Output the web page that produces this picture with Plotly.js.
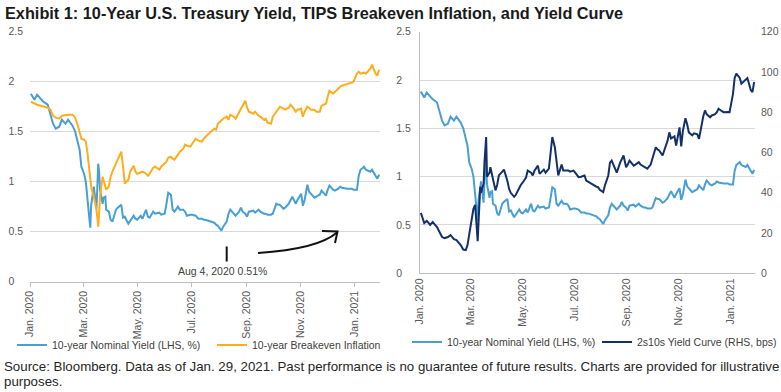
<!DOCTYPE html>
<html>
<head>
<meta charset="utf-8">
<script src="https://cdn.plot.ly/plotly-3.0.1.min.js"></script>
<style>html,body{margin:0;padding:0;background:#fff;}#chart{width:781px;height:392px;}</style>
</head>
<body>
<div id="chart"></div>
<script>
const dates = [
'2020-01-02','2020-01-06','2020-01-09','2020-01-13','2020-01-16','2020-01-21','2020-01-24','2020-01-27','2020-01-30',
'2020-02-03','2020-02-06','2020-02-10','2020-02-13','2020-02-18','2020-02-21','2020-02-24','2020-02-26','2020-02-28',
'2020-03-02','2020-03-04','2020-03-06','2020-03-09','2020-03-10','2020-03-12','2020-03-13','2020-03-16','2020-03-17','2020-03-18','2020-03-19','2020-03-20','2020-03-23','2020-03-24','2020-03-26','2020-03-27','2020-03-30',
'2020-04-01','2020-04-03','2020-04-07','2020-04-09','2020-04-13','2020-04-15','2020-04-17','2020-04-21','2020-04-23','2020-04-27','2020-04-29',
'2020-05-01','2020-05-05','2020-05-07','2020-05-11','2020-05-13','2020-05-15','2020-05-19','2020-05-21','2020-05-26','2020-05-28',
'2020-06-01','2020-06-03','2020-06-05','2020-06-08','2020-06-10','2020-06-12','2020-06-16','2020-06-18','2020-06-22','2020-06-24','2020-06-26','2020-06-30',
'2020-07-02','2020-07-06','2020-07-09','2020-07-13','2020-07-15','2020-07-17','2020-07-21','2020-07-23','2020-07-27','2020-07-29','2020-07-31',
'2020-08-04','2020-08-06','2020-08-10','2020-08-12','2020-08-14','2020-08-18','2020-08-20','2020-08-24','2020-08-26','2020-08-28','2020-08-31',
'2020-09-02','2020-09-04','2020-09-09','2020-09-11','2020-09-15','2020-09-17','2020-09-21','2020-09-23','2020-09-25','2020-09-29',
'2020-10-01','2020-10-05','2020-10-07','2020-10-09','2020-10-13','2020-10-15','2020-10-19','2020-10-21','2020-10-23','2020-10-27','2020-10-29',
'2020-11-02','2020-11-04','2020-11-06','2020-11-09','2020-11-11','2020-11-13','2020-11-17','2020-11-19','2020-11-23','2020-11-25','2020-11-30',
'2020-12-02','2020-12-04','2020-12-08','2020-12-10','2020-12-14','2020-12-16','2020-12-18','2020-12-22','2020-12-24','2020-12-29','2020-12-31',
'2021-01-04','2021-01-06','2021-01-08','2021-01-12','2021-01-14','2021-01-19','2021-01-21','2021-01-25','2021-01-27','2021-01-29'
];

// 10-year nominal Treasury yield, %
const tenYearYield = [
1.88,1.82,1.87,1.83,1.80,1.77,1.68,1.58,1.53,
1.55,1.62,1.58,1.62,1.56,1.50,1.40,1.32,1.15,
1.08,1.00,0.80,0.54,0.76,0.88,0.95,0.73,1.00,1.18,1.10,0.92,0.78,0.84,0.85,0.72,0.70,
0.62,0.60,0.72,0.74,0.77,0.64,0.65,0.58,0.61,0.66,0.63,
0.62,0.66,0.63,0.72,0.65,0.64,0.70,0.68,0.69,0.67,
0.68,0.78,0.89,0.87,0.72,0.70,0.75,0.72,0.72,0.70,0.66,0.67,
0.67,0.66,0.63,0.63,0.62,0.62,0.61,0.60,0.59,0.57,0.56,
0.51,0.55,0.60,0.68,0.72,0.68,0.66,0.70,0.74,0.70,0.68,
0.65,0.70,0.71,0.69,0.72,0.70,0.68,0.68,0.67,0.67,
0.68,0.78,0.77,0.77,0.73,0.74,0.78,0.82,0.85,0.78,0.82,
0.88,0.76,0.82,0.97,0.90,0.88,0.84,0.85,0.87,0.91,0.86,
0.92,0.96,0.92,0.91,0.93,0.95,0.94,0.93,0.93,0.93,0.92,
0.92,1.06,1.12,1.15,1.12,1.10,1.12,1.06,1.03,1.07
];

// 10-year breakeven inflation, %
const breakevenInflation = [
1.80,1.78,1.77,1.76,1.75,1.74,1.72,1.66,1.64,
1.63,1.66,1.67,1.67,1.67,1.64,1.56,1.50,1.43,
1.42,1.40,1.28,1.05,0.95,0.88,0.85,0.72,0.62,0.55,0.68,0.85,1.05,1.02,0.96,0.92,0.95,
1.05,1.10,1.18,1.22,1.30,1.15,0.98,1.02,1.10,1.16,1.10,
1.08,1.09,1.10,1.08,1.06,1.08,1.14,1.15,1.12,1.15,
1.18,1.20,1.24,1.25,1.23,1.22,1.27,1.30,1.33,1.37,1.36,1.35,
1.38,1.43,1.41,1.40,1.43,1.45,1.48,1.50,1.53,1.52,1.58,
1.62,1.63,1.65,1.62,1.67,1.65,1.63,1.70,1.73,1.76,1.81,
1.74,1.70,1.68,1.70,1.66,1.65,1.62,1.63,1.59,1.58,
1.65,1.70,1.72,1.75,1.73,1.72,1.74,1.77,1.75,1.70,1.72,
1.73,1.65,1.70,1.75,1.74,1.72,1.72,1.70,1.70,1.76,1.78,
1.85,1.91,1.88,1.90,1.93,1.95,1.96,1.97,1.97,1.99,2.00,
2.08,2.10,2.08,2.09,2.08,2.13,2.17,2.08,2.06,2.12
];

// 2s10s yield curve, bps
const twosTensCurve = [
30,25,26,24,25.5,23,20.5,18,17.5,
18,19,17,16.5,14,11.8,11.5,14,19.5,
28,32,34,16,25,43,40,44.5,55,62,67.7,48,50,52.7,49,47.8,41.2,
44,48.6,50.5,51.5,46,42,40,38,39,42.5,44,
45,47.5,51,50,48.6,51,53.5,49.4,51.5,50,
52,61,67.7,62.6,55,48.6,54,51,51,51,50.5,51,
50,47.8,48,48.6,46.1,45.5,44.5,44,43,42.8,41.5,
40.3,43.6,48.6,55,56,52,50,55,57,58.5,52.7,
54,56,53.5,54,55.2,54,52.7,52.5,52,54,
56.9,62.6,61.5,61,58.5,61,66,70,67,68,63.5,
72.5,63,70.8,77,74,70,68.5,69.5,69,66.8,78,
80.9,79,77.5,78.4,79,80,81.7,80.5,80,80.1,80,
89,97,99.2,97,94.2,96,97,91,90,95
];

const seriesNames = ['10-year Nominal Yield (LHS, %)', '10-year Breakeven Inflation', '2s10s Yield Curve (RHS, bps)'];
const xTickVals = ['2020-01-01','2020-03-01','2020-05-01','2020-07-01','2020-09-01','2020-11-01','2021-01-01'];
const xTickText = ['Jan. 2020','Mar. 2020','May. 2020','Jul. 2020','Sep. 2020','Nov. 2020','Jan. 2021'];
const leftTickVals = [0, 0.5, 1, 1.5, 2, 2.5];
const leftTickText = ['0', '0.5', '1', '1.5', '2', '2.5'];
const rightTickVals = [0, 20, 40, 60, 80, 100, 120];
const rightTickText = ['0', '20', '40', '60', '80', '100', '120'];
const annotationText = 'Aug 4, 2020 0.51%';
const titleText = 'Exhibit 1: 10-Year U.S. Treasury Yield, TIPS Breakeven Inflation, and Yield Curve';
const sourceLine1 = 'Source: Bloomberg. Data as of Jan. 29, 2021. Past performance is no guarantee of future results. Charts are provided for illustrative';
const sourceLine2 = 'purposes.';

const W = 781, H = 392;
const FONT = 'Liberation Sans, Arial, sans-serif';
const BLUE = '#479fd4', ORANGE = '#ffad1c', NAVY = '#14306a';
const px = v => v / W;
const py = v => 1 - v / H;
// left-align y tick labels by padding integers to the width of "0.5"
const padLabel = s => (s.indexOf('.') < 0 ? s + '\u2008\u2007' : s);

const traces = [
  {x: dates, y: tenYearYield, type: 'scatter', mode: 'lines', name: seriesNames[0],
   xaxis: 'x', yaxis: 'y', legend: 'legend', line: {color: BLUE, width: 2}},
  {x: dates, y: breakevenInflation, type: 'scatter', mode: 'lines', name: seriesNames[1],
   xaxis: 'x', yaxis: 'y', legend: 'legend', line: {color: ORANGE, width: 2}},
  {x: dates, y: tenYearYield, type: 'scatter', mode: 'lines', name: seriesNames[0],
   xaxis: 'x2', yaxis: 'y2', legend: 'legend2', line: {color: BLUE, width: 2}},
  {x: dates, y: twosTensCurve, type: 'scatter', mode: 'lines', name: seriesNames[2],
   xaxis: 'x2', yaxis: 'y3', legend: 'legend2', line: {color: NAVY, width: 2}}
];

const tickFont = {family: FONT, size: 10.5, color: '#595959'};
const xCommon = {
  type: 'date', range: ['2020-01-01', '2021-01-30'],
  tickmode: 'array', tickvals: xTickVals, ticktext: xTickText, tickangle: -90,
  showgrid: false, zeroline: false, tickfont: tickFont, fixedrange: true, automargin: false
};
const yLeftCommon = {
  range: [0, 2.5], tickmode: 'array', tickvals: leftTickVals, ticktext: leftTickText.map(padLabel),
  showgrid: true, gridcolor: '#d9d9d9', gridwidth: 1, zeroline: false,
  tickfont: tickFont, ticklabelstandoff: 6, fixedrange: true, automargin: false
};
const legendFont = {family: FONT, size: 10.5, color: '#404040'};

const layout = {
  width: W, height: H,
  margin: {l: 0, r: 0, t: 0, b: 0, autoexpand: false},
  paper_bgcolor: '#ffffff', plot_bgcolor: '#ffffff',
  font: {family: FONT, color: '#404040'},
  title: {text: '<b>' + titleText + '</b>', x: px(5), xanchor: 'left', xref: 'paper',
          y: py(13), yanchor: 'middle', yref: 'paper', automargin: false,
          font: {family: FONT, size: 16.3, color: '#1a1a1a'}},
  showlegend: true,
  xaxis: Object.assign({}, xCommon, {domain: [px(30), px(380)], anchor: 'y',
    showline: true, linecolor: '#bfbfbf', linewidth: 1, ticks: 'outside', ticklen: 4, tickcolor: '#bfbfbf'}),
  yaxis: Object.assign({}, yLeftCommon, {domain: [py(281.7), py(31.7)], anchor: 'x', showline: false}),
  xaxis2: Object.assign({}, xCommon, {domain: [px(420), px(755)], anchor: 'y2',
    showline: true, linecolor: '#bfbfbf', linewidth: 1, ticks: ''}),
  yaxis2: Object.assign({}, yLeftCommon, {domain: [py(273.3), py(31.7)], anchor: 'x2',
    showline: true, linecolor: '#bfbfbf', linewidth: 1}),
  yaxis3: {overlaying: 'y2', anchor: 'x2', side: 'right', range: [0, 120],
    tickmode: 'array', tickvals: rightTickVals, ticktext: rightTickText,
    showgrid: false, zeroline: false, showline: false, tickfont: tickFont,
    ticklabelstandoff: 5, fixedrange: true, automargin: false},
  legend: {orientation: 'h', x: px(12), xanchor: 'left', y: py(345), yanchor: 'middle',
    font: legendFont, bgcolor: 'rgba(0,0,0,0)',
    entrywidth: 155, entrywidthmode: 'pixels', itemclick: false, itemdoubleclick: false},
  legend2: {orientation: 'h', x: px(407), xanchor: 'left', y: py(342), yanchor: 'middle',
    font: legendFont, bgcolor: 'rgba(0,0,0,0)',
    entrywidth: 145, entrywidthmode: 'pixels', itemclick: false, itemdoubleclick: false},
  annotations: [
    {text: annotationText, xref: 'paper', yref: 'paper', x: px(222), y: py(271),
     xanchor: 'center', yanchor: 'middle', showarrow: false,
     font: {family: FONT, size: 10.5, color: '#404040'}},
    {text: sourceLine1, xref: 'paper', yref: 'paper', x: px(2), y: py(366),
     xanchor: 'left', yanchor: 'middle', showarrow: false,
     font: {family: FONT, size: 13.3, color: '#262626'}},
    {text: sourceLine2, xref: 'paper', yref: 'paper', x: px(2), y: py(381),
     xanchor: 'left', yanchor: 'middle', showarrow: false,
     font: {family: FONT, size: 13.3, color: '#262626'}}
  ],
  shapes: [
    {type: 'line', xref: 'paper', yref: 'paper', x0: px(226.7), x1: px(226.7), y0: py(246.5), y1: py(261.5),
     line: {color: '#111111', width: 2}},
    {type: 'path', xref: 'paper', yref: 'paper',
     path: 'M ' + px(258) + ' ' + py(253) + ' Q ' + px(318) + ' ' + py(249) + ' ' + px(337) + ' ' + py(232.5),
     line: {color: '#111111', width: 2}},
    {type: 'path', xref: 'paper', yref: 'paper',
     path: 'M ' + px(322) + ' ' + py(231) + ' L ' + px(337.5) + ' ' + py(231.5) + ' L ' + px(335) + ' ' + py(243),
     line: {color: '#111111', width: 2}}
  ]
};

Plotly.newPlot('chart', traces, layout, {staticPlot: true, displayModeBar: false});
</script>
</body>
</html>
